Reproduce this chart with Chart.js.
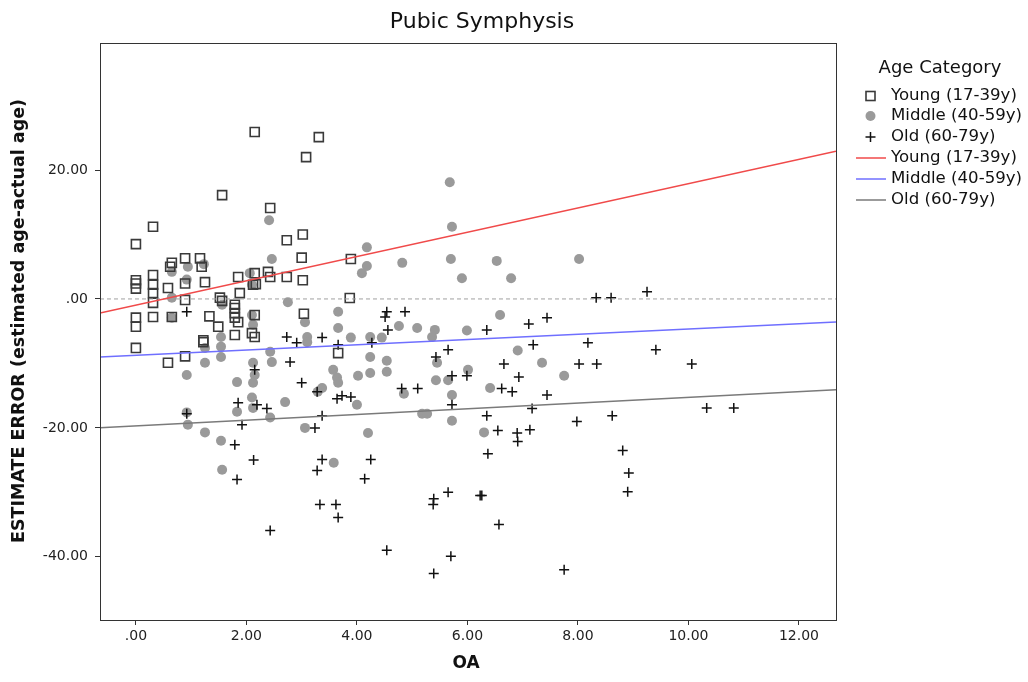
<!DOCTYPE html>
<html>
<head>
<meta charset="utf-8">
<script src="https://cdn.jsdelivr.net/npm/chart.js@4.4.1/dist/chart.umd.min.js"></script>
<style>
  html, body { margin: 0; padding: 0; background: #fff; }
  #wrap { width: 1028px; height: 682px; position: relative; }
</style>
</head>
<body>
<div id="wrap"><canvas id="oaChart" width="1028" height="682"></canvas></div>
<script>
// OA score vs estimate error, by age category
const youngOA = [0, 0.31, 1.56, 2.15, 3.31, 3.08, 2.43, 2.73, 3.02, 3.0, 3.89, 2.39, 2.43, 2.73, 3.02, 2.15, 2.17, 3.87, 3.04, 3.66,
  2.15, 2.15, 0.65, 0.62, 0.89, 1.16, 1.19, 0.31, 0, 1.25, 1.85, 0, 0, 0.31, 0.31, 0.31, 0.31, 0.58, 0.89, 0.89,
  0, 0, 0, 0.58, 0.89, 0.65, 1.33, 1.49, 1.22, 1.22, 1.52, 1.56, 1.79, 1.79, 1.79, 1.79, 1.85, 1.88, 1.79, 2.12, 2.1];
const youngErr = [8.5, 11.2, 16.1, 25.9, 25.1, 22.0, 14.1, 9.1, 10.0, 6.4, 6.2, 4.2, 3.4, 3.4, 2.9, 4.0, 2.3, 0.15, -2.3, -8.4,
  -2.5, -5.9, 5.6, 5.0, 6.3, 6.3, 5.0, 3.7, 2.9, 2.6, 3.4, 2.4, 1.6, 2.2, 0.9, -0.6, -2.8, 1.7, 2.4, -0.15,
  -2.9, -4.3, -7.6, -9.9, -8.9, -2.8, -2.7, -4.3, -6.4, -6.7, 0.2, -0.3, -0.9, -1.4, -2.2, -2.9, -3.6, 0.9, -5.6, 2.2, -5.3];

const middleOA = [0.65, 0.94, 1.23, 0.92, 2.06, 2.41, 2.46, 4.18, 4.18, 4.09, 4.82, 5.68, 5.72, 5.7, 6.53, 5.9, 6.79, 8.02,
  0.65, 0.65, 1.56, 1.25, 1.25, 0.92, 1.54, 1.54, 1.54, 1.83, 2.1, 2.12, 2.12, 2.15, 2.12, 2.1, 1.83, 2.12, 0.94, 1.25, 2.1, 0.92,
  2.43, 2.46, 2.75, 3.06, 3.1, 3.1, 3.66, 3.66, 3.89, 4.24, 4.45, 4.76, 4.24, 4.54, 3.57, 3.64, 3.66, 4.02, 4.24, 4.54,
  3.37, 3.29, 2.7, 4.0, 2.43, 3.06, 4.2,
  5.09, 5.41, 5.36, 5.99, 6.59, 6.91, 5.45, 6.01, 5.43, 5.65, 4.85, 5.72, 6.41, 5.18, 5.27, 5.72, 6.3, 7.35, 7.75,
  1.54, 1.56, 3.58];
const middleErr = [4.2, 5.0, 5.4, 3.0, 4.0, 12.2, 6.2, 8.0, 5.1, 4.0, 5.6, 18.1, 11.2, 6.2, 5.9, 3.2, 3.2, 6.2,
  0.2, -2.9, -0.9, -7.6, -9.9, -11.8, -5.9, -7.4, -9.0, -12.9, -2.5, -4.0, -9.9, -11.8, -13.0, -15.3, -17.5, -16.9, -19.5, -20.7, 2.2, -17.6,
  -8.2, -9.8, -0.5, -3.6, -5.9, -6.7, -2.0, -4.5, -6.0, -5.9, -6.0, -4.2, -9.0, -9.6, -11.0, -12.2, -13.0, -11.9, -11.5, -11.3,
  -13.8, -14.4, -16.0, -16.4, -18.4, -20.0, -20.8,
  -4.5, -4.8, -5.9, -4.9, -2.5, -8.0, -9.9, -11.0, -12.6, -12.6, -14.7, -14.9, -13.8, -17.8, -17.8, -18.9, -20.7, -9.9, -11.9,
  -22.0, -26.5, -25.4];

const oldOA = [0.92, 2.15, 1.85, 0.92, 1.92, 2.19, 2.37, 2.73, 2.91, 3.37, 3.66, 4.27, 4.51, 4.54, 4.56, 2.79, 3.0, 3.28, 3.64, 3.73, 3.89, 3.37, 3.24,
  4.87, 6.35, 7.11, 5.65, 5.43, 6.66, 7.19, 5.72, 5.99, 6.93, 4.81, 5.1, 6.62, 6.81, 5.72, 6.35, 7.17, 6.55, 6.9, 7.13,
  7.44, 8.33, 8.6, 9.25, 8.18, 9.41, 8.02, 8.34, 10.06, 7.44, 10.33, 10.82, 7.98, 8.62,
  1.79, 2.13, 1.83, 3.37, 3.28, 4.25, 4.14, 3.33, 3.62, 3.66, 2.43, 4.54,
  6.91, 6.37, 5.65, 5.39, 5.38, 6.23, 6.26, 6.57, 5.7, 5.39, 8.81, 8.92, 8.9, 7.75];
const oldErr = [-2.0, -11.0, -16.1, -17.8, -19.5, -16.4, -17.0, -5.9, -6.8, -6.0, -7.1, -6.8, -2.8, -2.0, -4.8, -9.8, -13.0, -14.4, -15.5, -15.0, -15.2, -18.1, -20.0,
  -2.0, -4.8, -3.9, -7.9, -9.0, -10.1, -7.1, -11.9, -11.9, -12.1, -13.9, -13.9, -13.9, -14.4, -16.4, -18.1, -17.0, -20.4, -20.8, -20.3,
  -2.9, 0.2, 0.2, 1.1, -6.8, -7.9, -10.1, -10.1, -10.1, -14.9, -16.9, -16.9, -19.0, -18.1,
  -22.6, -25.0, -28.0, -24.9, -26.6, -24.9, -27.9, -31.9, -31.9, -33.9, -35.9, -39.0,
  -22.1, -24.0, -30.0, -31.0, -31.9, -30.5, -30.5, -35.0, -39.9, -42.6, -23.5, -27.0, -29.9, -42.0];

// fit lines per group: [young, middle, old]
const groupNames = ['Young (17-39y)', 'Middle (40-59y)', 'Old (60-79y)'];
const fitIntercept = [-0.97, -8.73, -19.71];
const fitSlope = [1.885, 0.408, 0.443];

const xTickValues = [0, 2, 4, 6, 8, 10, 12];
const yTickValues = [-40, -20, 0, 20];
const xRange = [-0.65, 12.67];
const yRange = [-49.8, 39.7];

const FONT = '"DejaVu Sans", sans-serif';
const fitColors = ['#f04a4a', '#6f6fff', '#7a7a7a'];

const toPoints = (xs, ys) => xs.map((x, i) => ({ x: x, y: ys[i] }));
const fitPoints = (k) => xRange.map(x => ({ x: x, y: fitIntercept[k] + fitSlope[k] * x }));

function fmt(v) {
  let s = Math.abs(v).toFixed(2);
  if (s.startsWith('0')) s = s.slice(1);
  return (v < 0 ? '-' : '') + s;
}

const datasets = [
  { type: 'line', data: fitPoints(0), borderColor: fitColors[0], borderWidth: 1.5, pointRadius: 0, order: 0 },
  { type: 'line', data: fitPoints(1), borderColor: fitColors[1], borderWidth: 1.5, pointRadius: 0, order: 0 },
  { type: 'line', data: fitPoints(2), borderColor: fitColors[2], borderWidth: 1.5, pointRadius: 0, order: 0 },
  { type: 'line', data: xRange.map(x => ({ x: x, y: 0 })), borderColor: '#a0a0a0', borderWidth: 1,
    borderDash: [4, 3], pointRadius: 0, order: 0 },
  { label: groupNames[0], data: toPoints(youngOA, youngErr), pointStyle: 'rect', pointRadius: 6.4,
    backgroundColor: 'rgba(0,0,0,0)', borderColor: '#3a3a3a', borderWidth: 1.6, order: 1 },
  { label: groupNames[1], data: toPoints(middleOA, middleErr), pointStyle: 'circle', pointRadius: 5,
    backgroundColor: '#9a9a9a', borderColor: '#9a9a9a', borderWidth: 0, order: 2 },
  { label: groupNames[2], data: toPoints(oldOA, oldErr), pointStyle: 'cross', pointRadius: 5,
    borderColor: '#111', borderWidth: 1.5, order: 1 }
];

// frame, titles and legend
const decorations = {
  id: 'decorations',
  afterDraw(chart) {
    const ctx = chart.ctx;
    const a = chart.chartArea;
    ctx.save();
    ctx.strokeStyle = '#333';
    ctx.lineWidth = 1;
    ctx.strokeRect(Math.round(a.left) + 0.5, Math.round(a.top) + 0.5,
      Math.round(a.right - a.left), Math.round(a.bottom - a.top));

    ctx.fillStyle = '#111';
    ctx.textAlign = 'center';
    ctx.textBaseline = 'middle';
    ctx.font = '22px ' + FONT;
    ctx.fillText('Pubic Symphysis', 482, 22);

    ctx.font = 'bold 17px ' + FONT;
    ctx.fillText('OA', 466, 664);
    ctx.save();
    ctx.translate(19, 321);
    ctx.rotate(-Math.PI / 2);
    ctx.font = 'bold 17.5px ' + FONT;
    ctx.fillText('ESTIMATE ERROR (estimated age-actual age)', 0, 0);
    ctx.restore();

    // legend
    ctx.font = '18px ' + FONT;
    ctx.fillText('Age Category', 940, 68);
    ctx.textAlign = 'left';
    ctx.font = '16.6px ' + FONT;
    const rowY = [96, 116, 137, 158, 179, 200];
    const labels = groupNames.concat(groupNames);
    labels.forEach((t, i) => {
      const y = rowY[i];
      ctx.fillStyle = '#111';
      ctx.fillText(t, 891, y);
      if (i === 0) {
        ctx.strokeStyle = '#3a3a3a'; ctx.lineWidth = 1.6;
        ctx.strokeRect(866, y - 4.5, 9, 9);
      } else if (i === 1) {
        ctx.fillStyle = '#9a9a9a';
        ctx.beginPath(); ctx.arc(870.5, y, 5, 0, Math.PI * 2); ctx.fill();
      } else if (i === 2) {
        ctx.strokeStyle = '#111'; ctx.lineWidth = 1.5;
        ctx.beginPath();
        ctx.moveTo(865.5, y); ctx.lineTo(875.5, y);
        ctx.moveTo(870.5, y - 5); ctx.lineTo(870.5, y + 5);
        ctx.stroke();
      } else {
        ctx.strokeStyle = fitColors[i - 3]; ctx.lineWidth = 1.5;
        ctx.beginPath(); ctx.moveTo(856, y); ctx.lineTo(886, y); ctx.stroke();
      }
    });
    ctx.restore();
  }
};

const tickFont = { family: FONT, size: 14 };

new Chart(document.getElementById('oaChart'), {
  type: 'scatter',
  data: { datasets: datasets },
  options: {
    responsive: false,
    animation: false,
    events: [],
    layout: { padding: { top: 43, right: 192, left: 0, bottom: 0 } },
    plugins: { legend: { display: false }, tooltip: { enabled: false }, title: { display: false } },
    scales: {
      x: {
        type: 'linear', min: xRange[0], max: xRange[1],
        afterBuildTicks: s => { s.ticks = xTickValues.map(v => ({ value: v })); },
        afterFit: s => { s.height = 62; },
        ticks: { callback: v => fmt(v), font: tickFont, color: '#222', padding: 3, maxRotation: 0 },
        grid: { drawOnChartArea: false, tickLength: 5, color: '#333' },
        border: { display: false }
      },
      y: {
        type: 'linear', min: yRange[0], max: yRange[1],
        afterBuildTicks: s => { s.ticks = yTickValues.map(v => ({ value: v })); },
        afterFit: s => { s.width = 100; },
        ticks: { callback: v => fmt(v), font: tickFont, color: '#222', padding: 7 },
        grid: { drawOnChartArea: false, tickLength: 5, color: '#333' },
        border: { display: false }
      }
    }
  },
  plugins: [decorations]
});
</script>
</body>
</html>
